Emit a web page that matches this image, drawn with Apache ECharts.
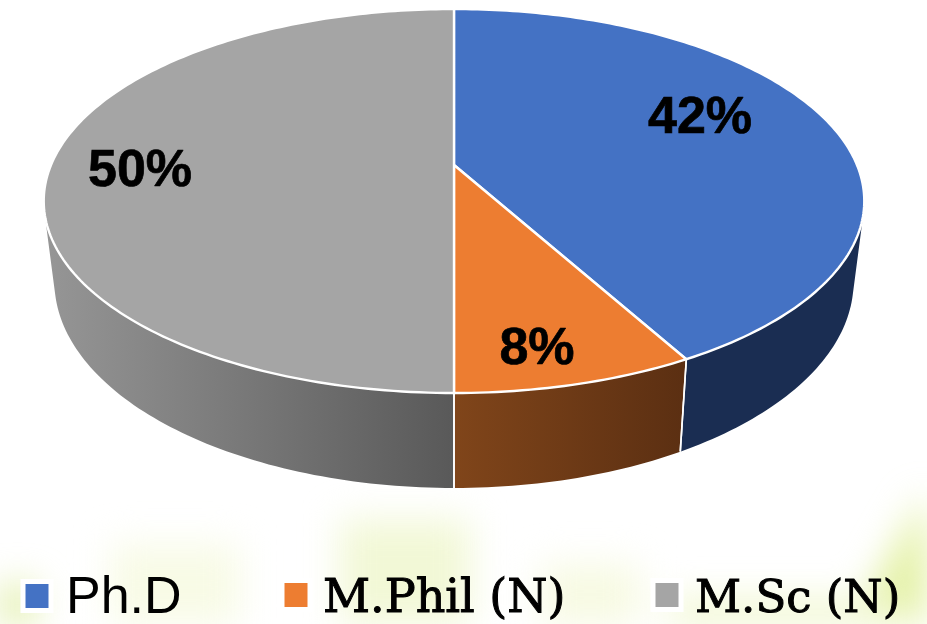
<!DOCTYPE html>
<html>
<head>
<meta charset="utf-8">
<style>
html,body{margin:0;padding:0;width:927px;height:624px;overflow:hidden;background:#fff}
#bg{position:absolute;left:0;top:0;width:927px;height:624px;overflow:hidden;filter:blur(18px)}
#bg div{position:absolute}
#chart{position:absolute;left:0;top:0;width:927px;height:624px}
</style>
</head>
<body>
<div id="bg">
  <div style="left:880px;top:480px;width:120px;height:220px;background:#e2f0a0;transform:rotate(30deg)"></div>
  <div style="left:670px;top:600px;width:240px;height:50px;background:#eef6c8"></div>
  <div style="left:-40px;top:585px;width:75px;height:70px;background:#dfeda4"></div>
  <div style="left:110px;top:545px;width:130px;height:100px;background:#f8fbe6"></div>
  <div style="left:340px;top:520px;width:130px;height:130px;background:#f2f8d6"></div>
  <div style="left:540px;top:565px;width:100px;height:80px;background:#f7fae2"></div>
</div>
<div id="chart"></div>
<script src="https://cdn.jsdelivr.net/npm/echarts@6/dist/echarts.min.js"></script>
<script>
const categories = ['Ph.D', 'M.Phil (N)', 'M.Sc (N)'];
const shares = [42, 8, 50];
const labels = ['42%', '8%', '50%'];
const topColors = ['#4472c4', '#ed7d31', '#a5a5a5'];
const sideFrom = ['#1a2d52', '#80451a', '#969696'];
const sideTo = ['#1a2d52', '#5b2f12', '#595959'];
const labelSpots = [[700, 119], [537, 350], [140, 172]];

// Perspective projection of the pie disc
const cx = 454, apexY = 165, Rx = 403, Ry = 185.25, k = 0.1875;
function topPoint(pct) {
  const t = pct / 100 * 2 * Math.PI;
  const u = Math.sin(t), v = -Math.cos(t), w = 1 / (1 - k * v);
  return [cx + Rx * u * w, apexY + Ry * v * w];
}
function basePoint(p) {
  return [cx + (p[0] - cx) * 0.974, 65.1 + 1.076 * p[1]];
}
function slicePct(i) {
  let s = 0;
  for (let j = 0; j < i; j++) s += shares[j];
  return [s, s + shares[i]];
}
function renderSlice(params, api) {
  const i = params.seriesIndex;
  const range = slicePct(i);
  const steps = Math.ceil(api.value(0) * 3.6);
  const arc = [];
  for (let n = 0; n <= steps; n++) arc.push(topPoint(range[0] + (range[1] - range[0]) * n / steps));
  const children = [];
  // front-facing part of the rim only
  const front = [];
  for (let n = 0; n < steps; n++) {
    const a = arc[n], b = arc[n + 1], base = basePoint(a);
    const cross = (b[0] - a[0]) * (base[1] - a[1]) - (b[1] - a[1]) * (base[0] - a[0]);
    if (cross < 0) {
      if (!front.length) front.push(a);
      front.push(b);
    }
  }
  const xs = front.map(p => p[0]);
  const rim = front.concat(front.map(basePoint).reverse());
  children.push({
    type: 'polygon', z2: 1, silent: true,
    shape: { points: rim },
    style: {
      fill: {
        type: 'linear', global: true,
        x: Math.min.apply(null, xs), y: 0, x2: Math.max.apply(null, xs), y2: 0,
        colorStops: [{ offset: 0, color: sideFrom[i] }, { offset: 1, color: sideTo[i] }]
      }
    }
  });
  // white seams where slices meet on the rim
  [arc[0], arc[arc.length - 1]].forEach(p => {
    const base = basePoint(p);
    if (p[1] > 300) children.push({
      type: 'line', z2: 2, silent: true,
      shape: { x1: p[0], y1: p[1], x2: base[0], y2: base[1] },
      style: { stroke: '#ffffff', lineWidth: 1.6 }
    });
  });
  children.push({
    type: 'polygon', z2: 10,
    shape: { points: [[cx, apexY]].concat(arc) },
    style: { fill: topColors[i], stroke: '#ffffff', lineWidth: 2.4, lineJoin: 'miter' }
  });
  children.push({
    type: 'text', z2: 20, silent: true,
    x: labelSpots[i][0], y: labelSpots[i][1],
    style: {
      text: labels[i], fill: '#000000', align: 'center', verticalAlign: 'middle',
      stroke: '#000000', lineWidth: 0.7,
      font: 'bold 52px "Liberation Sans", Arial, sans-serif'
    }
  });
  return { type: 'group', children };
}

const chart = echarts.init(document.getElementById('chart'), null, { renderer: 'canvas' });
function legendAt(i, left, top, font, size, padTop, pad, border) {
  return {
    data: [categories[i]], left: left, top: top, padding: 0, orient: 'horizontal',
    selectedMode: false, icon: 'rect', itemWidth: 28, itemHeight: 29,
    itemStyle: { color: topColors[i], borderColor: '#ffffff', borderWidth: 5 },
    formatter: '{a|{name}}',
    textStyle: {
      rich: {
        a: {
          fontFamily: font, fontSize: size, color: '#000000', lineHeight: 60, height: 60,
          padding: [padTop, 0, 0, pad], textBorderColor: '#000000', textBorderWidth: border
        }
      }
    }
  };
}
chart.setOption({
  animation: false,
  backgroundColor: 'transparent',
  legend: [
    legendAt(0, 20.5, 563, '"Liberation Sans", Arial, sans-serif', 52, 6, 10, 0),
    legendAt(1, 279.5, 560, '"DejaVu Serif", serif', 46, 10, 8, 1),
    legendAt(2, 650.5, 560, '"DejaVu Serif", serif', 45, 10, 9, 1)
  ],
  series: categories.map((name, i) => ({
    type: 'custom', name: name, coordinateSystem: 'none',
    itemStyle: { color: topColors[i] },
    renderItem: renderSlice,
    data: [[shares[i]]]
  }))
});
</script>
</body>
</html>
